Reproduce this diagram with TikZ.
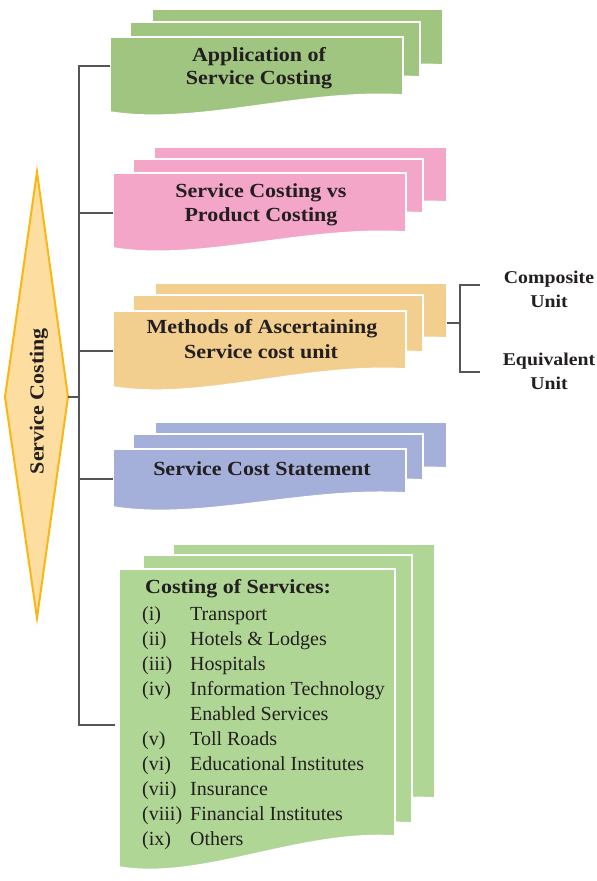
\documentclass[tikz,border=0pt]{standalone}
\usepackage{fontspec}
\setmainfont{Liberation Serif}
\newfontfamily\wideserif[FakeStretch=1.1]{Liberation Serif}
\definecolor{gA}{RGB}{159,197,128}
\definecolor{pk}{RGB}{244,166,200}
\definecolor{orn}{RGB}{242,206,143}
\definecolor{blu}{RGB}{165,176,218}
\definecolor{gB}{RGB}{176,214,150}
\definecolor{dfill}{RGB}{253,221,160}
\definecolor{dline}{RGB}{250,183,20}
\definecolor{lne}{RGB}{85,85,85}
\definecolor{txt}{RGB}{35,31,32}
\newcommand{\docsheet}[6]{%
  \path[fill=#6, draw=white, line width=1.6pt]
    (#1,#2) -- ({#1+#3},#2) -- ({#1+#3},{#2+#4})
    .. controls ({#1+0.65*#3},{#2+#4-6}) and ({#1+0.3*#3},{#2+#5+14}) ..
    (#1,{#2+#5}) -- cycle;}
\tikzset{
  ttl/.style={font=\wideserif\bfseries\fontsize{20}{24}\selectfont, text=txt, inner sep=0pt, anchor=base},
  side/.style={font=\wideserif\bfseries\fontsize{18}{22}\selectfont, text=txt, inner sep=0pt, anchor=base},
  itm/.style={font=\fontsize{20}{25}\selectfont, text=txt, inner sep=0pt, anchor=base west},
  conn/.style={draw=lne, line width=1.3pt}
}
\begin{document}
\begin{tikzpicture}[x=1pt,y=-1pt]
\useasboundingbox (0,0) rectangle (597,881);
\fill[white] (0,0) rectangle (597,881);

% diamond
\draw[fill=dfill, draw=dline, line width=2pt] (37,172) -- (68,397) -- (37,618) -- (5,397) -- cycle;
\node[ttl, anchor=center, rotate=90] (sc) at (39,401) {Service Costing};
\coordinate (dt) at (68,397);

% stack 1
\docsheet{152}{9}{291}{56}{73}{gA}
\docsheet{130}{22}{290}{55}{72}{gA}
\docsheet{110}{37}{293}{58}{75}{gA}
\node[ttl] (a1) at (259,61) {Application of};
\node[ttl] (a2) at (259,84) {Service Costing};

% stack 2
\docsheet{154}{147}{293}{55}{72}{pk}
\docsheet{133}{159}{290}{54}{71}{pk}
\docsheet{113}{173}{293}{59}{75}{pk}
\node[ttl] (b1) at (261,197) {Service Costing vs};
\node[ttl] (b2) at (261,221) {Product Costing};

% stack 3
\docsheet{155}{283}{292}{55}{72}{orn}
\docsheet{133}{295}{290}{57}{74}{orn}
\docsheet{113}{311}{293}{58}{76}{orn}
\node[ttl] (c1) at (262,333) {Methods of Ascertaining};
\node[ttl] (c2) at (261,358) {Service cost unit};

% stack 4
\docsheet{155}{422}{292}{46}{60}{blu}
\docsheet{133}{434}{290}{46}{60}{blu}
\docsheet{113}{449}{293}{44}{58}{blu}
\node[ttl] (d1) at (262,475) {Service Cost Statement};

% stack 5
\docsheet{173}{544}{262}{254}{285}{gB}
\docsheet{143}{555}{269}{268}{298}{gB}
\docsheet{119}{569}{276}{267}{298}{gB}
\node[ttl, anchor=base west] (e0) at (145,593) {Costing of Services:};
\foreach \n/\lab/\txt/\yy in {1/(i)/Transport/620, 2/(ii)/Hotels \& Lodges/645, 3/(iii)/Hospitals/670,
  4/(iv)/Information Technology/695, 5/(v)/Toll Roads/745, 6/(vi)/Educational Institutes/770,
  7/(vii)/Insurance/795, 8/(viii)/Financial Institutes/820, 9/(ix)/Others/845}{
  \node[itm] (l\n) at (142,\yy) {\lab};
  \node[itm] (t\n) at (190,\yy) {\txt};
}
\node[itm] (t4b) at (190,720) {Enabled Services};

% side labels
\node[side] (s1) at (549,283) {Composite};
\node[side] (s2) at (549,307) {Unit};
\node[side] (s3) at (549,365) {Equivalent};
\node[side] (s4) at (549,389) {Unit};

% connectors
\coordinate (f1) at (110,66);
\coordinate (f2) at (113,213);
\coordinate (f3) at (113,351);
\coordinate (f4) at (113,479);
\coordinate (f5) at (115,725);
\coordinate (j2) at (79,213);
\coordinate (j3) at (79,351);
\coordinate (j4) at (79,479);
\coordinate (j5) at (79,725);
\coordinate (jd) at (79,397);
\draw[conn] (f1) -| (j5) -- (f5);
\draw[conn] (j2) -- (f2);
\draw[conn] (j3) -- (f3);
\draw[conn] (j4) -- (f4);
\draw[conn] (dt) -- (jd);

% bracket
\coordinate (br0) at (447,323);
\coordinate (brm) at (460,323);
\coordinate (brt) at (480,285);
\coordinate (brb) at (480,372);
\draw[conn] (br0) -- (brm);
\draw[conn] (brt) -| (brm) |- (brb);
\end{tikzpicture}
\end{document}
